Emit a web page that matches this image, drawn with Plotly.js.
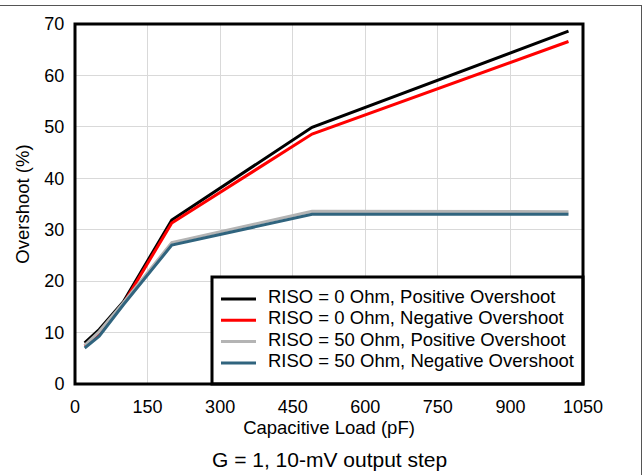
<!DOCTYPE html>
<html>
<head>
<meta charset="utf-8">
<script src="https://cdn.plot.ly/plotly-3.0.1.min.js"></script>
<style>
  html, body { margin: 0; padding: 0; background: #fff; }
  #wrap { position: relative; width: 644px; height: 475px; }
  #frame { position: absolute; left: 0; top: 5px; width: 642px; height: 470px;
           border-top: 1px solid #555; border-right: 1px solid #555; box-sizing: border-box; pointer-events: none; }
  #chart { width: 644px; height: 475px; }
</style>
</head>
<body>
<div id="wrap">
  <div id="chart"></div>
  <div id="frame"></div>
</div>
<script>
// Capacitive load (pF)
const capLoad = [20, 50, 100, 200, 490, 1020];
// Overshoot (%)
const riso0Pos  = [8.0, 10.6, 16.0, 31.9, 49.9, 68.6];
const riso0Neg  = [7.4, 9.8, 15.6, 31.3, 48.6, 66.6];
const riso50Pos = [7.5, 10.2, 15.8, 27.5, 33.6, 33.5];
const riso50Neg = [7.0, 9.3, 15.4, 27.0, 33.0, 33.0];

const seriesNames = [
  'RISO = 0 Ohm, Positive Overshoot',
  'RISO = 0 Ohm, Negative Overshoot',
  'RISO = 50 Ohm, Positive Overshoot',
  'RISO = 50 Ohm, Negative Overshoot'
];
const seriesData = [riso0Pos, riso0Neg, riso50Pos, riso50Neg];
const seriesColors = ['#000000', '#ff0000', '#b4b4b4', '#30647e'];

const xTicks = [0, 150, 300, 450, 600, 750, 900, 1050];
const yTicks = [0, 10, 20, 30, 40, 50, 60, 70];

const traces = seriesData.map((ys, i) => ({
  x: capLoad, y: ys, type: 'scatter', mode: 'lines',
  name: seriesNames[i], showlegend: false,
  line: { color: seriesColors[i], width: 3 }
}));

const fam = 'Liberation Sans, Arial, sans-serif';
const font = { family: fam, size: 18, color: '#000' };

// custom legend (paper coordinates of the plot area: 508 x 360 px)
const PW = 508, PH = 360;
const px = v => v / PW, py = v => v / PH;
const legLeft = px(137), legTop = py(107);
const rowY = [85, 63.7, 42.4, 21.1].map(py);
const shapes = [{
  type: 'rect', xref: 'paper', yref: 'paper', x0: legLeft, x1: 1, y0: 0, y1: legTop,
  fillcolor: '#fff', line: { color: '#000', width: 3 }, layer: 'above'
}];
const annotations = [];
seriesNames.forEach((n, i) => {
  shapes.push({
    type: 'line', xref: 'paper', yref: 'paper',
    x0: legLeft + px(9), x1: legLeft + px(44), y0: rowY[i], y1: rowY[i],
    line: { color: seriesColors[i], width: 3 }, layer: 'above'
  });
  annotations.push({
    text: n, xref: 'paper', yref: 'paper', x: legLeft + px(54), y: rowY[i] + py(2.5),
    xanchor: 'left', yanchor: 'middle', showarrow: false,
    font: { family: fam, size: 18.5, color: '#000' }
  });
});
shapes.push({
  type: 'rect', xref: 'paper', yref: 'paper', x0: 0, x1: 1, y0: 0, y1: 1,
  line: { color: '#000', width: 3 }, layer: 'above'
});
annotations.push({
  text: 'G = 1, 10-mV output step', xref: 'paper', yref: 'paper',
  x: 0.5, y: -py(76), xanchor: 'center', yanchor: 'middle', showarrow: false,
  font: { family: fam, size: 21, color: '#000' }
});

const layout = {
  width: 644, height: 475,
  margin: { l: 75, r: 61, t: 24, b: 91 },
  paper_bgcolor: 'rgba(0,0,0,0)', plot_bgcolor: '#fff',
  font: font,
  showlegend: false,
  xaxis: {
    range: [0, 1050], tickmode: 'array', tickvals: xTicks, ticktext: xTicks.map(String),
    showgrid: true, gridcolor: '#d9d9d9', gridwidth: 1,
    zeroline: false, showline: false, ticks: 'outside', ticklen: 6, tickcolor: 'rgba(0,0,0,0)',
    tickfont: { size: 18 },
    title: { text: 'Capacitive Load (pF)', font: { size: 18.5 }, standoff: 0 },
    fixedrange: true
  },
  yaxis: {
    range: [0, 70], tickmode: 'array', tickvals: yTicks, ticktext: yTicks.map(String),
    showgrid: true, gridcolor: '#d9d9d9', gridwidth: 1,
    zeroline: false, showline: false, ticks: 'outside', ticklen: 6, tickcolor: 'rgba(0,0,0,0)',
    tickfont: { size: 18 },
    title: { text: 'Overshoot (%)', font: { size: 18.5 }, standoff: 9 },
    fixedrange: true
  },
  shapes: shapes,
  annotations: annotations
};

Plotly.newPlot('chart', traces, layout, { displayModeBar: false, staticPlot: true });
</script>
</body>
</html>
